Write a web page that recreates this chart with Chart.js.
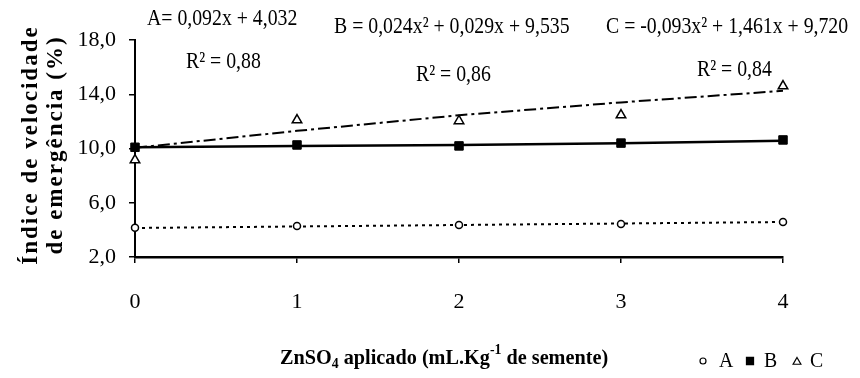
<!DOCTYPE html>
<html>
<head>
<meta charset="utf-8">
<script src="https://cdn.jsdelivr.net/npm/chart.js@4.4.1/dist/chart.umd.min.js"></script>
<style>
  html, body { margin: 0; padding: 0; background: #fff; }
  #wrap { width: 860px; height: 378px; position: relative; }
</style>
</head>
<body>
<div id="wrap"><canvas id="c" width="860" height="378"></canvas></div>
<script>
// ZnSO4 dose (mL.Kg-1 de semente)
const doses = [0, 1, 2, 3, 4];
// Observed emergence speed index per treatment
const obsA = [4.16, 4.29, 4.36, 4.43, 4.58];
const obsB = [10.09, 10.26, 10.19, 10.4, 10.63];
const obsC = [9.15, 12.1, 12.03, 12.47, 14.6];
// Fitted regression curves at each dose
const fitA = [4.14, 4.25, 4.36, 4.47, 4.58];
const fitB = [10.1, 10.18, 10.25, 10.38, 10.58];
const fitC = [10.05, 11.3, 12.45, 13.4, 14.25];
// Axis ticks
const yTicks = [2, 6, 10, 14, 18];
const xTicks = [0, 1, 2, 3, 4];
// Regression equations and fit quality
const eqA = "A= 0,092x + 4,032";
const eqB = "B = 0,024x² + 0,029x + 9,535";
const eqC = "C = -0,093x² + 1,461x + 9,720";
const r2A = "R² = 0,88";
const r2B = "R² = 0,86";
const r2C = "R² = 0,84";

const pts = ys => doses.map((x, i) => ({ x: x, y: ys[i] }));
const SERIF = '"Liberation Serif", "DejaVu Serif", serif';

const markerA = { pointStyle: 'circle', radius: 3.5, backgroundColor: '#fff', borderColor: '#000', borderWidth: 1.5 };
const markerB = { pointStyle: 'rect', radius: 6, backgroundColor: '#000', borderColor: '#000', borderWidth: 1 };
const markerC = { pointStyle: 'triangle', radius: 5.5, backgroundColor: '#fff', borderColor: '#000', borderWidth: 1.5 };

function fitLine(ys, dash, width) {
  return { type: 'line', data: pts(ys), borderColor: '#000', borderWidth: width,
           borderDash: dash, pointRadius: 0, tension: 0, fill: false, clip: false, order: 2 };
}
function obsSet(label, ys, m) {
  return { type: 'scatter', label: label, data: pts(ys), pointStyle: m.pointStyle,
           pointRadius: m.radius, pointBackgroundColor: m.backgroundColor,
           pointBorderColor: m.borderColor, pointBorderWidth: m.borderWidth,
           showLine: false, clip: false, order: 1 };
}

// Narrow text: tall glyphs squeezed horizontally
function narrowText(ctx, text, x, y, sx) {
  ctx.save();
  ctx.translate(x, y);
  ctx.scale(sx, 1);
  ctx.fillText(text, 0, 0);
  ctx.restore();
  return ctx.measureText(text).width * sx;
}

// Titles, equations and legend drawn as canvas text
const annotations = {
  id: 'annotations',
  afterDraw(chart) {
    const ctx = chart.ctx;
    ctx.save();
    ctx.fillStyle = '#000';

    // Equations
    ctx.font = '23px ' + SERIF;
    ctx.textBaseline = 'middle';
    ctx.textAlign = 'left';
    narrowText(ctx, eqA, 147, 19, 0.86);
    narrowText(ctx, r2A, 186, 62, 0.86);
    narrowText(ctx, eqB, 334, 27, 0.86);
    narrowText(ctx, r2B, 416, 75, 0.86);
    narrowText(ctx, eqC, 606, 27, 0.86);
    narrowText(ctx, r2C, 697, 70, 0.86);

    // Y axis title (two lines, rotated)
    ctx.save();
    ctx.font = 'bold 23px ' + SERIF;
    ctx.letterSpacing = '2px';
    ctx.textAlign = 'center';
    ctx.translate(0, 145);
    ctx.rotate(-Math.PI / 2);
    ctx.fillText('Índice de velocidade', 0, 31);
    ctx.fillText('de emergência (%)', 0, 56);
    ctx.restore();

    // X axis title with sub/superscripts
    const base = 358;
    let x = 280;
    const big = 'bold 22px ' + SERIF;
    const small = 'bold 15px ' + SERIF;
    const parts = [
      ['ZnSO', big, 0], ['4', small, 6], [' aplicado (mL.Kg', big, 0],
      ['-1', small, -8], [' de semente)', big, 0]
    ];
    ctx.textBaseline = 'middle';
    for (const [t, f, dy] of parts) {
      ctx.font = f;
      x += narrowText(ctx, t, x, base + dy, 0.92);
    }

    // Legend
    const ly = 361;
    const draw = Chart.helpers.drawPoint;
    ctx.lineWidth = 1.2;
    ctx.strokeStyle = '#000';
    ctx.fillStyle = '#fff';
    draw(ctx, { pointStyle: 'circle', radius: 3, borderWidth: 1.2 }, 703, ly);
    ctx.fillStyle = '#000';
    draw(ctx, { pointStyle: 'rect', radius: 5, borderWidth: 1 }, 750, ly);
    ctx.fillStyle = '#fff';
    draw(ctx, { pointStyle: 'triangle', radius: 4.5, borderWidth: 1.2 }, 797, ly + 1);
    ctx.fillStyle = '#000';
    ctx.font = '22px ' + SERIF;
    ctx.textAlign = 'left';
    narrowText(ctx, 'A', 719, ly, 0.9);
    narrowText(ctx, 'B', 764, ly, 0.9);
    narrowText(ctx, 'C', 810, ly, 0.9);
    ctx.restore();
  }
};

new Chart(document.getElementById('c'), {
  data: {
    datasets: [
      fitLine(fitA, [3, 4], 2),
      fitLine(fitB, [], 2.5),
      fitLine(fitC, [12, 4, 3, 4], 2),
      obsSet('A', obsA, markerA),
      obsSet('B', obsB, markerB),
      obsSet('C', obsC, markerC)
    ]
  },
  options: {
    responsive: false,
    animation: false,
    layout: { padding: { top: 40, right: 77, left: 0, bottom: 0 } },
    plugins: { legend: { display: false }, tooltip: { enabled: false } },
    scales: {
      x: {
        type: 'linear', min: 0, max: 4,
        afterBuildTicks: s => { s.ticks = xTicks.map(v => ({ value: v })); },
        afterFit: s => { s.height = 121; },
        border: { display: true, color: '#000', width: 2.5 },
        grid: { drawOnChartArea: false, drawTicks: true, tickLength: 6, color: '#000', lineWidth: 1.5 },
        ticks: { color: '#000', padding: 26, font: { family: SERIF, size: 22 },
                 callback: v => String(v) }
      },
      y: {
        type: 'linear', min: 2, max: 18,
        afterBuildTicks: s => { s.ticks = yTicks.map(v => ({ value: v })); },
        afterFit: s => { s.width = 135; },
        border: { display: true, color: '#000', width: 2 },
        grid: { drawOnChartArea: false, drawTicks: true, tickLength: 6, color: '#000', lineWidth: 1.5 },
        ticks: { color: '#000', padding: 13, font: { family: SERIF, size: 22 },
                 callback: v => v.toFixed(1).replace('.', ',') }
      }
    }
  },
  plugins: [annotations]
});
</script>
</body>
</html>
